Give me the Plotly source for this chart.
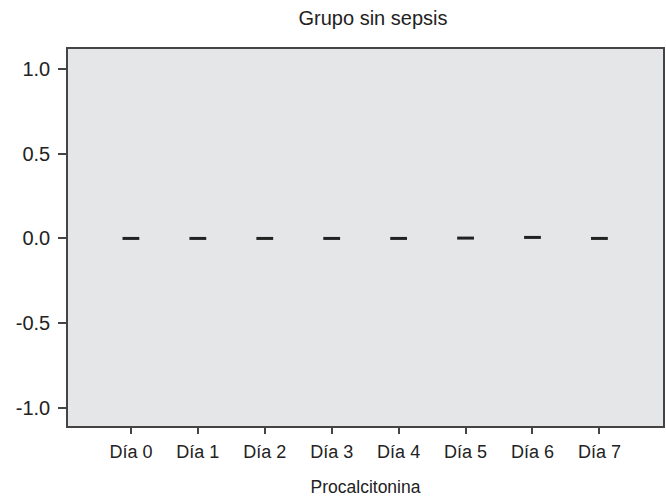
import plotly.graph_objects as go

categories = ["Día 0", "Día 1", "Día 2", "Día 3", "Día 4", "Día 5", "Día 6", "Día 7"]
values = [0.0, 0.0, 0.0, 0.0, 0.0, 0.002, 0.006, 0.0]
y_ticks = [-1.0, -0.5, 0.0, 0.5, 1.0]
y_tick_labels = ["-1.0", "-0.5", "0.0", "0.5", "1.0"]

FONT = "Liberation Sans, Arial, Helvetica, sans-serif"

fig = go.Figure()
fig.add_trace(go.Scatter(
    x=list(range(len(categories))), y=values, mode="markers",
    marker=dict(symbol="line-ew", size=12, line=dict(width=3, color="#222222")),
    showlegend=False, hoverinfo="skip",
))

fig.update_layout(
    width=666, height=497, autosize=False,
    margin=dict(l=68, r=1, t=49, b=71),
    paper_bgcolor="white", plot_bgcolor="#e5e6e8",
    font=dict(family=FONT, size=18, color="#222222"),
    title=dict(text="Grupo sin sepsis", x=373/666, xanchor="center", y=1 - 18/497, yanchor="middle",
               font=dict(size=20, family=FONT, color="#222222")),
)
fig.update_xaxes(
    range=[-0.94, 7.95], tickmode="array", tickvals=list(range(len(categories))), ticktext=categories,
    showgrid=False, zeroline=False, showline=True, linecolor="#444444", linewidth=1.5, mirror=True,
    ticks="outside", ticklen=6, tickwidth=1.5, tickcolor="#444444", ticklabelstandoff=3,
    title=dict(text="Procalcitonina", standoff=20, font=dict(size=17.5)),
    tickfont=dict(size=18),
)
fig.update_yaxes(
    range=[-1.107, 1.118], tickmode="array", tickvals=y_ticks, ticktext=y_tick_labels,
    showgrid=False, zeroline=False, showline=True, linecolor="#444444", linewidth=1.5, mirror=True,
    ticks="outside", ticklen=8, tickwidth=1.5, tickcolor="#444444", ticklabelstandoff=4,
    tickfont=dict(size=20),
)

fig.write_html(
    "out.html",
    config={"displayModeBar": False},
    post_script="document.body.style.margin='0px';document.body.style.overflow='hidden';",
)
